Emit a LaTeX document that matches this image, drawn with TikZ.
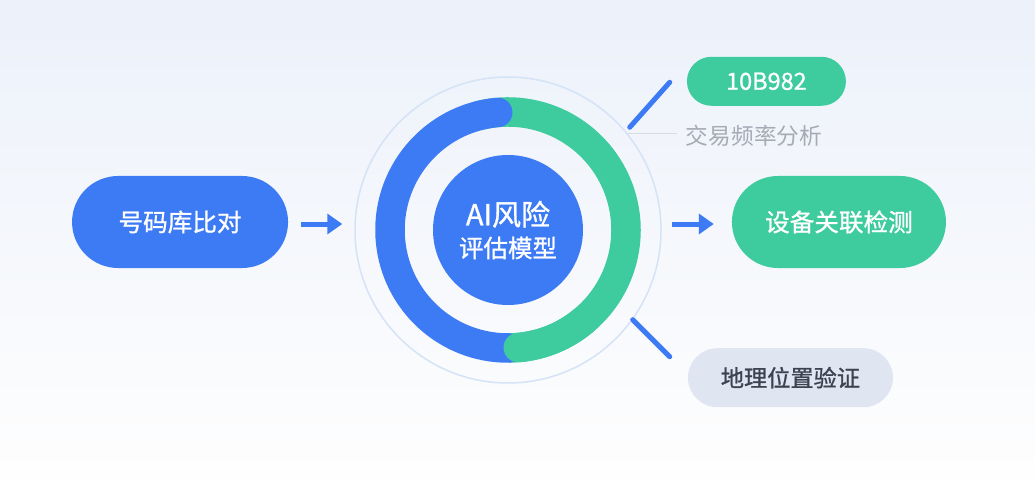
\documentclass[tikz,border=0pt]{standalone}
\usepackage{fontspec}
\setmainfont{Noto Sans CJK SC}
\newfontfamily\medfont[FakeBold=1]{Noto Sans CJK SC}
\usetikzlibrary{arrows.meta, positioning, shapes.geometric, shapes.misc, calc}
\definecolor{riskblue}{HTML}{3D7BF5}
\definecolor{riskgreen}{HTML}{3ECB9D}
\definecolor{tagbg}{HTML}{DFE5F1}
\definecolor{tagtext}{HTML}{3C4250}
\definecolor{notegray}{HTML}{A5AAB5}
\definecolor{halocol}{HTML}{D5E3F7}
\definecolor{rulecol}{HTML}{D8DCE5}
\definecolor{skytop}{HTML}{ECF1FA}
\definecolor{skymid}{HTML}{F1F4FB}
\definecolor{skylow}{HTML}{FEFEFE}
\newcommand{\Size}[1]{\fontsize{#1}{#1}\selectfont}
\tikzset{
    pillbox/.style={rounded rectangle, minimum width=216pt, minimum height=92pt, inner sep=0pt, text=white, font=\medfont\Size{24.6}},
    tagbox/.style={rounded rectangle, inner sep=0pt},
    flow/.style={-{Triangle[length=15pt, width=20pt]}, line width=5pt, riskblue},
    spoke/.style={line width=5pt, line cap=round, riskblue},
    ringarc/.style={line width=29.5pt},
}

\begin{document}
\begin{tikzpicture}[x=1pt, y=1pt]
    \tikzset{
      every node/.append style={inner sep=0pt}
    }
    \shade[top color=skytop, middle color=skymid, bottom color=skylow] (0,0) rectangle (1035,480);
    \useasboundingbox (0,0) rectangle (1035,480);

    % centre circles
    \node[circle, minimum size=150pt, fill=riskblue, text=white, align=center] (core) at (508,250)
      {\medfont\Size{29}AI风险\\[8pt]\medfont\Size{24.5}评估模型};
    \node[circle, minimum size=306pt, draw=halocol, line width=1.5pt] (halo) at (core) {};

    % ring, the green end sits over the blue one at the bottom
    \draw[ringarc, riskgreen] ([shift={(105:118)}]core.center) arc[start angle=105, end angle=-90, radius=118pt];
    \draw[ringarc, riskblue, line cap=round] ([shift={(95:118)}]core.center) arc[start angle=95, end angle=270, radius=118pt];
    \draw[ringarc, riskgreen, line cap=round] ([shift={(-85:118)}]core.center) arc[start angle=-85, end angle=-50, radius=118pt];

    % left and right
    \node[pillbox, fill=riskblue, left=66pt of halo, yshift=8pt] (lookup) {号码库比对};
    \node[pillbox, fill=riskgreen, right=70pt of halo, yshift=8pt, minimum width=214pt] (device) {设备关联检测};

    \coordinate[right=13pt of lookup, yshift=-2pt] (a0);
    \coordinate[right=41pt of a0] (a1);
    \coordinate[left=18pt of device, yshift=-2pt] (b1);
    \coordinate[left=42pt of b1] (b0);
    \draw[flow] (a0) -- (a1);
    \draw[flow] (b0) -- (b1);

    % top right
    \node[tagbox, fill=riskgreen, minimum width=159pt, minimum height=49pt, text=white, font=\medfont\Size{23.5},
      right=70pt of halo.north east, yshift=40pt] (code) {10B982};
    \node[font=\Size{22.7}, text=notegray, right=-1pt of code.west, yshift=-54.5pt] (freq) {交易频率分析};
    \coordinate[left=17pt of code.west, yshift=-1pt] (c1);
    \coordinate (c0) at ($(c1)+(-40,-45)$);
    \draw[spoke] (c0) -- (c1);
    \coordinate (d0) at ($(c0)+(-3,-6)$);
    \coordinate (d1) at ($(d0 -| freq.west)+(-9,0)$);
    \draw[rulecol, line width=0.8pt] (d0) -- (d1);

    % bottom right
    \node[tagbox, fill=tagbg, minimum width=205pt, minimum height=59pt, text=tagtext, font=\medfont\Size{23.2},
      right=71pt of halo.south east, yshift=-39pt] (geo) {地理位置验证};
    \coordinate[left=18pt of geo.west, yshift=21pt] (e1);
    \coordinate (e0) at ($(e1)+(-37,37)$);
    \draw[spoke] (e0) -- (e1);
\end{tikzpicture}
\end{document}
